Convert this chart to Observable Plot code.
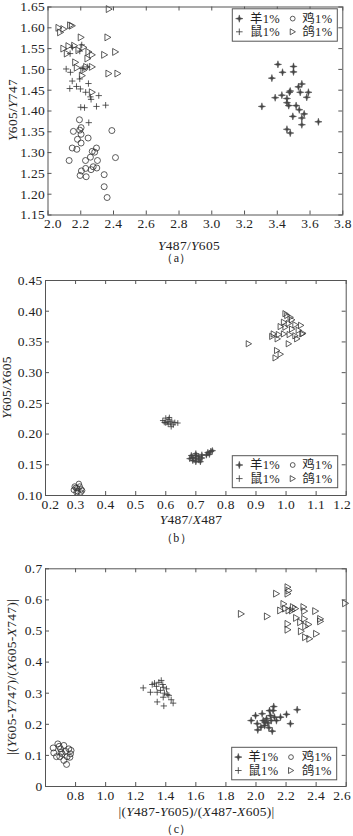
<!DOCTYPE html>
<html><head><meta charset="utf-8">
<script src="https://cdn.jsdelivr.net/npm/d3@7"></script>
<script src="https://cdn.jsdelivr.net/npm/@observablehq/plot@0.6"></script>
<style>
body{margin:0;background:#fff;}
#chart{width:353px;height:836px;display:flex;flex-direction:column;}
svg{display:block;overflow:visible}
</style></head><body><div id="chart"></div>
<script>
// ---------- Panel (a): Y487/Y605 vs Y605/Y747 ----------
const sheepA = [[3.404,1.512],[3.499,1.507],[3.432,1.493],[3.499,1.494],[3.367,1.479],[3.55,1.465],[3.529,1.458],[3.479,1.448],[3.474,1.445],[3.54,1.445],[3.59,1.445],[3.387,1.432],[3.428,1.438],[3.459,1.43],[3.58,1.433],[3.459,1.42],[3.47,1.413],[3.515,1.413],[3.306,1.411],[3.534,1.403],[3.564,1.393],[3.495,1.387],[3.55,1.383],[3.651,1.374],[3.55,1.367],[3.459,1.356],[3.479,1.347]];
const chickenA = [[2.192,1.379],[2.155,1.351],[2.202,1.36],[2.194,1.354],[2.202,1.344],[2.39,1.353],[2.18,1.332],[2.245,1.335],[2.148,1.311],[2.176,1.308],[2.202,1.323],[2.296,1.311],[2.27,1.303],[2.285,1.301],[2.129,1.281],[2.259,1.289],[2.229,1.281],[2.302,1.281],[2.412,1.288],[2.276,1.266],[2.23,1.262],[2.263,1.259],[2.298,1.263],[2.204,1.256],[2.196,1.245],[2.233,1.242],[2.343,1.247],[2.343,1.218],[2.361,1.192]];
const ratA = [[2.149,1.553],[2.206,1.559],[2.194,1.544],[2.135,1.538],[2.111,1.501],[2.137,1.493],[2.21,1.502],[2.24,1.506],[2.148,1.472],[2.194,1.477],[2.133,1.454],[2.174,1.459],[2.198,1.453],[2.247,1.466],[2.23,1.445],[2.259,1.434],[2.31,1.437],[2.263,1.428],[2.2,1.409],[2.223,1.408],[2.296,1.411],[2.352,1.414],[2.249,1.372]];
const pigeonA = [[2.373,1.645],[2.066,1.6],[2.076,1.589],[2.096,1.597],[2.137,1.606],[2.148,1.605],[2.202,1.577],[2.365,1.577],[2.096,1.55],[2.127,1.556],[2.162,1.557],[2.218,1.553],[2.188,1.546],[2.249,1.542],[2.117,1.538],[2.27,1.535],[2.345,1.535],[2.412,1.542],[2.243,1.526],[2.168,1.517],[2.178,1.504],[2.235,1.506],[2.27,1.506],[2.218,1.498],[2.371,1.49],[2.426,1.49],[2.209,1.485],[2.27,1.445]];
const xTicksA = [2.0,2.2,2.4,2.6,2.8,3.0,3.2,3.4,3.6,3.8];
const yTicksA = [1.15,1.20,1.25,1.30,1.35,1.40,1.45,1.50,1.55,1.60,1.65];

// ---------- Panel (b): Y487/X487 vs Y605/X605 ----------
const sheepB = [[0.68,0.160],[0.69,0.162],[0.69,0.157],[0.70,0.165],[0.70,0.160],[0.70,0.155],[0.71,0.163],[0.71,0.158],[0.72,0.166],[0.72,0.161],[0.70,0.168],[0.735,0.166],[0.74,0.170],[0.75,0.172],[0.745,0.167],[0.755,0.173],[0.685,0.165],[0.715,0.155]];
const chickenB = [[0.30,0.1125],[0.311,0.119],[0.294,0.109],[0.307,0.107],[0.319,0.110],[0.303,0.105],[0.314,0.1147],[0.322,0.108],[0.297,0.1147],[0.305,0.112],[0.317,0.105]];
const ratB = [[0.59,0.222],[0.60,0.226],[0.605,0.220],[0.61,0.224],[0.615,0.218],[0.62,0.221],[0.60,0.218],[0.625,0.215],[0.63,0.219],[0.612,0.227],[0.595,0.219],[0.618,0.212],[0.608,0.216],[0.64,0.218]];
const pigeonB = [[1.004,0.393],[1.015,0.390],[1.02,0.386],[0.993,0.382],[1.009,0.380],[1.031,0.378],[1.05,0.377],[0.982,0.375],[0.998,0.374],[1.02,0.371],[1.042,0.369],[1.057,0.364],[0.959,0.363],[0.976,0.362],[0.993,0.363],[1.012,0.362],[1.031,0.360],[0.954,0.359],[0.972,0.355],[1.037,0.355],[1.009,0.347],[0.876,0.347],[0.97,0.336],[0.982,0.330],[0.965,0.324],[0.998,0.396],[1.054,0.363]];
const xTicksB = [0.2,0.3,0.4,0.5,0.6,0.7,0.8,0.9,1.0,1.1,1.2];
const yTicksB = [0.10,0.15,0.20,0.25,0.30,0.35,0.40,0.45];

// ---------- Panel (c): |(Y487-Y605)/(X487-X605)| vs |(Y605-Y747)/(X605-X747)| ----------
const sheepC = [[1.968,0.212],[1.997,0.228],[2.008,0.202],[2.012,0.182],[2.041,0.234],[2.048,0.212],[2.057,0.196],[2.07,0.218],[2.079,0.204],[2.086,0.189],[2.096,0.228],[2.101,0.212],[2.108,0.178],[2.114,0.244],[2.118,0.257],[2.123,0.223],[2.136,0.212],[2.163,0.223],[2.203,0.232],[2.229,0.202],[2.274,0.247],[2.033,0.191],[2.09,0.244],[2.06,0.207]];
const chickenC = [[0.651,0.124],[0.682,0.137],[0.655,0.108],[0.673,0.096],[0.70,0.121],[0.711,0.105],[0.722,0.132],[0.733,0.113],[0.744,0.096],[0.755,0.121],[0.766,0.105],[0.74,0.071],[0.722,0.084],[0.695,0.096],[0.762,0.094],[0.704,0.110],[0.691,0.129],[0.77,0.116]];
const ratC = [[1.25,0.317],[1.298,0.303],[1.31,0.328],[1.325,0.332],[1.338,0.322],[1.343,0.303],[1.354,0.335],[1.37,0.341],[1.365,0.309],[1.383,0.319],[1.391,0.30],[1.405,0.314],[1.343,0.272],[1.383,0.287],[1.387,0.259],[1.42,0.293],[1.436,0.279],[1.449,0.268],[1.41,0.296],[1.38,0.328]];
const pigeonC = [[1.902,0.555],[2.075,0.547],[2.136,0.62],[2.212,0.641],[2.219,0.63],[2.212,0.62],[2.185,0.587],[2.163,0.566],[2.196,0.572],[2.219,0.566],[2.248,0.577],[2.263,0.572],[2.241,0.566],[2.318,0.577],[2.323,0.564],[2.396,0.564],[2.269,0.542],[2.323,0.539],[2.296,0.528],[2.351,0.521],[2.429,0.539],[2.429,0.531],[2.212,0.523],[2.212,0.504],[2.301,0.499],[2.329,0.48],[2.357,0.475],[2.402,0.491],[2.595,0.589],[2.33,0.515]];
const xTicksC = [0.6,0.8,1.0,1.2,1.4,1.6,1.8,2.0,2.2,2.4,2.6];
const xLabelsC = [0.8,1.0,1.2,1.4,1.6,1.8,2.0,2.2,2.4,2.6];
const yTicksC = [0,0.1,0.2,0.3,0.4,0.5,0.6,0.7];

const legendNames = ["羊1%","鸡1%","鼠1%","鸽1%"];

// ---------- symbols ----------
const sparkle = {draw(ctx, size){ const r = Math.sqrt(size/Math.PI)*1.15, w = r*0.22;
  ctx.moveTo(0,-r); ctx.lineTo(w,-w); ctx.lineTo(r,0); ctx.lineTo(w,w); ctx.lineTo(0,r); ctx.lineTo(-w,w); ctx.lineTo(-r,0); ctx.lineTo(-w,-w); ctx.closePath(); }};
const triRight = {draw(ctx, size){ const r = Math.sqrt(size/Math.PI);
  ctx.moveTo(r*1.05,0); ctx.lineTo(-r*0.95,-r*1.15); ctx.lineTo(-r*0.95,r*1.15); ctx.closePath(); }};
const plusSym = {draw(ctx, size){ const r = Math.sqrt(size/Math.PI);
  ctx.moveTo(-r,0); ctx.lineTo(r,0); ctx.moveTo(0,-r); ctx.lineTo(0,r); }};
const circSym = {draw(ctx, size){ const r = Math.sqrt(size/Math.PI); ctx.moveTo(r,0); ctx.arc(0,0,r,0,2*Math.PI); }};

const INK = "#333", SHEEP = "#444", FRAME = "#555", FONT = "'Liberation Serif','Times New Roman',serif";

function styledText(sel, str){
  str.split(/([XY])/).filter(s=>s.length).forEach(s=>{
    const t = sel.append("tspan").text(s);
    if (s==="X"||s==="Y") t.attr("font-style","italic");
  });
}

function panel(o){
  const W = 353, fw = W - o.ml - o.mr, fh = o.height - o.mt - o.mb;
  const series = [
    {data:o.sheep, symbol:sparkle, fill:SHEEP, stroke:SHEEP, sw:0.5, r:o.r*1.05},
    {data:o.chicken, symbol:circSym, fill:"none", stroke:INK, sw:0.8, r:o.r},
    {data:o.rat, symbol:plusSym, fill:"none", stroke:INK, sw:0.8, r:o.r*1.05},
    {data:o.pigeon, symbol:triRight, fill:"none", stroke:INK, sw:0.8, r:o.r}
  ];
  const labels = o.xLabels || o.xTicks;
  const axOpt = {tickSize:0, tickPadding:o.xPad, tickFormat:o.xFmt, label:null, fill:"#222"};
  const svg = Plot.plot({
    width: W, height: o.height,
    marginTop:o.mt, marginBottom:o.mb, marginLeft:o.ml, marginRight:o.mr,
    style:{fontFamily:FONT, fontSize:"13.5px", color:"#222", background:"#fff", letterSpacing:"0.3px"},
    x:{domain:o.xDomain}, y:{domain:o.yDomain},
    marks:[
      ...series.map(s=>Plot.dot(s.data,{x:d=>d[0], y:d=>d[1], symbol:s.symbol, r:s.r, stroke:s.stroke, fill:s.fill, strokeWidth:s.sw})),
      Plot.tickX(o.xTicks,{x:d=>d, insetTop:fh-4, stroke:FRAME}),
      Plot.tickX(o.xTicks,{x:d=>d, insetBottom:fh-4, stroke:FRAME}),
      Plot.tickY(o.yTicks,{y:d=>d, insetRight:fw-4, stroke:FRAME}),
      Plot.tickY(o.yTicks,{y:d=>d, insetLeft:fw-4, stroke:FRAME}),
      Plot.axisX(labels.slice(0,1),{...axOpt, dx:o.firstDx}),
      Plot.axisX(labels.slice(1,-1),axOpt),
      Plot.axisX(labels.slice(-1),{...axOpt, dx:o.lastDx}),
      Plot.axisY(o.yTicks,{tickSize:0, tickPadding:3, tickFormat:o.yFmt, label:null, fill:"#222"}),
      Plot.frame({stroke:FRAME, strokeWidth:1})
    ]
  });
  const s = d3.select(svg);
  const txt = (x,y,str,rot)=>{
    const t = s.append("text").attr("x",x).attr("y",y).attr("text-anchor","middle")
      .attr("dominant-baseline","central").attr("fill","#222").attr("font-size",13.5).attr("font-family",FONT);
    if (rot) t.attr("transform",`rotate(-90,${x},${y})`);
    styledText(t,str);
  };
  txt(o.xTitle[1], o.xTitle[2], o.xTitle[0]);
  txt(o.yTitle[1], o.yTitle[2], o.yTitle[0], true);
  s.append("text").attr("x",176.5).attr("y",o.caption[1]).attr("text-anchor","middle")
    .attr("dominant-baseline","central").attr("fill","#222").attr("font-size",12)
    .attr("font-family",FONT).text(o.caption[0]);
  // legend
  const L = o.legend, g = s.append("g");
  g.append("rect").attr("x",L.x).attr("y",L.y).attr("width",L.w).attr("height",L.h)
    .attr("fill","#fff").attr("stroke",FRAME).attr("stroke-width",1);
  const syms = [sparkle, circSym, plusSym, triRight];
  const radii = [3.2, 2.4, 3.3, 2.6];
  const pos = [[0,0],[1,0],[0,1],[1,1]];
  syms.forEach((sym,i)=>{
    const cx = L.x + (pos[i][0] ? L.s2 : L.s1), cy = L.y + (pos[i][1] ? L.r2 : L.r1);
    g.append("path").attr("d", d3.symbol(sym, Math.PI*radii[i]*radii[i])()).attr("transform",`translate(${cx},${cy})`)
      .attr("fill", i===0 ? SHEEP : "none").attr("stroke", i===0 ? SHEEP : INK).attr("stroke-width", i===0 ? 0.5 : 0.8);
    g.append("text").attr("x", L.x + (pos[i][0] ? L.t2 : L.t1)).attr("y",cy)
      .attr("text-anchor","start").attr("dominant-baseline","central").attr("font-size",12.5).attr("fill","#222")
      .attr("font-family","'Liberation Serif','Noto Sans CJK SC',serif").text(legendNames[i]);
  });
  document.getElementById("chart").appendChild(svg);
}

const f1 = d3.format(".1f"), f2 = d3.format(".2f");

panel({height:266, mt:6.5, mb:51.5, ml:47.5, mr:10.7, r:3,
  xDomain:[2.0,3.8], yDomain:[1.15,1.65], xTicks:xTicksA, yTicks:yTicksA, xFmt:f1, yFmt:f2, xPad:3,
  firstDx:5, lastDx:0,
  sheep:sheepA, chicken:chickenA, rat:ratA, pigeon:pigeonA,
  xTitle:["Y487/Y605",189,244.5], yTitle:["Y605/Y747",12,110], caption:["（a）",258],
  legend:{x:232.3,y:8.8,w:105,h:32.4,s1:7,t1:17.7,s2:60.4,t2:70,r1:9.8,r2:23}});

panel({height:280, mt:14, mb:51, ml:45, mr:7.3, r:2.7,
  xDomain:[0.2,1.2], yDomain:[0.10,0.45], xTicks:xTicksB, yTicks:yTicksB, xFmt:f1, yFmt:f2, xPad:4,
  firstDx:5, lastDx:-4,
  sheep:sheepB, chicken:chickenB, rat:ratB, pigeon:pigeonB,
  xTitle:["Y487/X487",191,253], yTitle:["Y605/X605",6,121.5], caption:["（b）",272],
  legend:{x:232.3,y:189.7,w:105.4,h:32,s1:7,t1:17.7,s2:60.4,t2:70,r1:9.3,r2:22.9}});

panel({height:290, mt:22.3, mb:50, ml:45, mr:7.3, r:3,
  xDomain:[0.6,2.6], yDomain:[0,0.7], xTicks:xTicksC, xLabels:xLabelsC, yTicks:yTicksC, xFmt:f1,
  yFmt:d=>d===0?"0":f1(d), xPad:4, firstDx:0, lastDx:-4,
  sheep:sheepC, chicken:chickenC, rat:ratC, pigeon:pigeonC,
  xTitle:["|(Y487-Y605)/(X487-X605)|",196.5,264.5], yTitle:["|(Y605-Y747)/(X605-X747)|",10.5,131], caption:["（c）",283],
  legend:{x:231.7,y:201.3,w:105,h:32.5,s1:6.6,t1:16.6,s2:59.3,t2:70,r1:9.8,r2:23.2}});
</script></body></html>
